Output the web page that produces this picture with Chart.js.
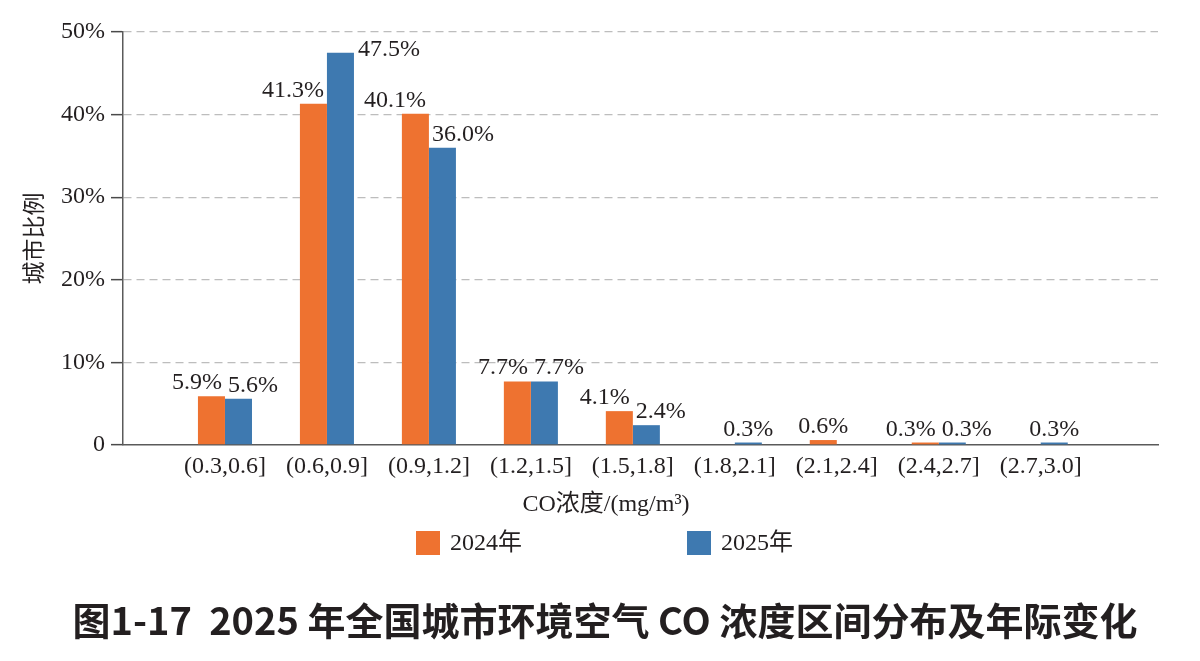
<!DOCTYPE html>
<html>
<head>
<meta charset="utf-8">
<script src="https://cdn.jsdelivr.net/npm/chart.js@4.4.1/dist/chart.umd.min.js"></script>
<style>
  html, body { margin: 0; padding: 0; background: #ffffff; }
  #wrap { width: 1200px; height: 661px; position: relative; }
  canvas { display: block; }
</style>
</head>
<body>
<div id="wrap"><canvas id="c" width="1200" height="661"></canvas></div>
<script>
// ---- Data ----
const categories = ['(0.3,0.6]', '(0.6,0.9]', '(0.9,1.2]', '(1.2,1.5]', '(1.5,1.8]', '(1.8,2.1]', '(2.1,2.4]', '(2.4,2.7]', '(2.7,3.0]'];
const series2024 = [5.9, 41.3, 40.1, 7.7, 4.1, null, 0.6, 0.3, null];
const series2025 = [5.6, 47.5, 36.0, 7.7, 2.4, 0.3, null, 0.3, 0.3];
const seriesNames = ['2024年', '2025年'];
const yTicks = [0, 10, 20, 30, 40, 50];
const xTitle = 'CO浓度/(mg/m³)';
const yTitle = '城市比例';
const caption = '图1-17  2025 年全国城市环境空气 CO 浓度区间分布及年际变化';

const ORANGE = '#EE7230';
const BLUE = '#3E79B0';
const TEXT = '#231f20';
const SERIF = '"Liberation Serif", "Noto Sans CJK SC", serif';
const SANS_CJK = '"Noto Sans CJK SC", sans-serif';

// categories sit at positions 1..9 on the x axis (an empty slot before the first)
const toPoints = arr => arr.map((v, i) => ({ x: i + 1, y: v }));

const valueLabels = {
  id: 'valueLabels',
  afterDatasetsDraw(chart) {
    const ctx = chart.ctx;
    const area = chart.chartArea;
    ctx.save();
    ctx.font = '24px ' + SERIF;
    ctx.fillStyle = TEXT;
    ctx.textBaseline = 'alphabetic';
    chart.data.datasets.forEach((ds, di) => {
      const meta = chart.getDatasetMeta(di);
      const other = chart.data.datasets[1 - di];
      meta.data.forEach((bar, i) => {
        const v = ds.data[i].y;
        if (v === null || v === undefined) return;
        const p = bar.getProps(['x', 'y', 'width'], true);
        const txt = v.toFixed(1) + '%';
        const partner = other.data[i].y;
        let x, y = p.y - 7, align;
        if (p.y - 7 - 18 < area.top) {
          align = 'left'; x = p.x + p.width / 2 + 4; y = p.y + 3;
        } else if (partner === null || partner === undefined) {
          align = 'center'; x = p.x;
        } else if (di === 0) {
          align = 'right'; x = p.x + p.width / 2 - 3;
        } else {
          align = 'left'; x = p.x - p.width / 2 + 3;
        }
        ctx.textAlign = align;
        ctx.fillText(txt, x, y);
      });
    });
    ctx.restore();
  }
};

const bottomTexts = {
  id: 'bottomTexts',
  afterDraw(chart) {
    const ctx = chart.ctx;
    const cx = chart.width / 2 + 5;
    ctx.save();
    // x-axis title
    ctx.fillStyle = TEXT;
    ctx.textAlign = 'center';
    ctx.textBaseline = 'middle';
    ctx.font = '24px ' + SERIF;
    ctx.fillText(xTitle, cx + 1, 505);
    // legend
    const yMid = 543;
    const items = [
      { color: ORANGE, text: seriesNames[0], x: cx - 189 },
      { color: BLUE, text: seriesNames[1], x: cx + 82 }
    ];
    ctx.textAlign = 'left';
    items.forEach(it => {
      ctx.fillStyle = it.color;
      ctx.fillRect(it.x, yMid - 12, 24, 24);
      ctx.fillStyle = TEXT;
      ctx.fillText(it.text, it.x + 34, yMid + 1);
    });
    // caption
    ctx.textAlign = 'center';
    ctx.font = 'bold 38px ' + SANS_CJK;
    ctx.fillText(caption, cx, 621);
    ctx.restore();
  }
};

new Chart(document.getElementById('c'), {
  type: 'bar',
  data: {
    datasets: [
      { label: seriesNames[0], data: toPoints(series2024), backgroundColor: ORANGE, borderWidth: 0,
        categoryPercentage: 0.53, barPercentage: 1.0 },
      { label: seriesNames[1], data: toPoints(series2025), backgroundColor: BLUE, borderWidth: 0,
        categoryPercentage: 0.53, barPercentage: 1.0 }
    ]
  },
  options: {
    responsive: false,
    animation: false,
    devicePixelRatio: 1,
    layout: { padding: { left: 0, right: 42, top: 32, bottom: 125 } },
    plugins: {
      legend: { display: false },
      tooltip: { enabled: false },
      title: { display: false }
    },
    scales: {
      x: {
        type: 'linear',
        min: 0,
        max: 10.15,
        offset: false,
        afterBuildTicks(scale) { scale.ticks = categories.map((c, i) => ({ value: i + 1 })); },
        grid: { display: false, drawTicks: false },
        border: { display: true, color: '#5a5a5a', width: 1.5 },
        ticks: {
          color: TEXT, font: { family: SERIF, size: 24 }, padding: 7, maxRotation: 0, autoSkip: false,
          callback: v => categories[v - 1] || ''
        },
        afterFit(scale) { scale.height = 91; }
      },
      y: {
        min: 0, max: 50,
        afterBuildTicks(scale) { scale.ticks = yTicks.map(v => ({ value: v })); },
        ticks: {
          color: TEXT, font: { family: SERIF, size: 24 }, padding: 6,
          callback: v => (v === 0 ? '0' : v + '%')
        },
        grid: {
          color: ctx => (ctx.tick && ctx.tick.value === 0 ? 'rgba(0,0,0,0)' : '#bdbdbd'),
          lineWidth: 1.3,
          drawTicks: true, tickLength: 12, tickColor: '#4a4a4a', tickWidth: 1.5, tickBorderDash: []
        },
        border: { display: true, color: '#5a5a5a', width: 1.5, dash: [8, 5] },
        title: { display: true, text: yTitle, color: TEXT, font: { family: SANS_CJK, size: 23 }, padding: { top: 19, bottom: 0 } },
        afterFit(scale) { scale.width = 123; }
      }
    }
  },
  plugins: [valueLabels, bottomTexts]
});
</script>
</body>
</html>
